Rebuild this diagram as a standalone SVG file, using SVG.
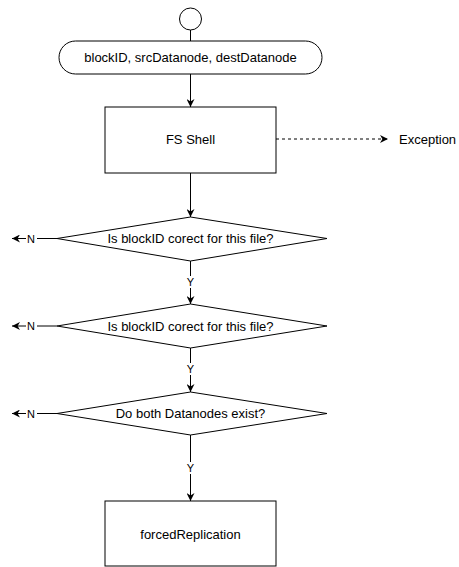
<svg xmlns="http://www.w3.org/2000/svg" width="459" height="567" viewBox="0 0 459 567">
  <defs>
    <style>
      .shape { fill: #ffffff; stroke: #000000; stroke-width: 1; }
      .edge { fill: none; stroke: #000000; stroke-width: 1; }
      .dashed { stroke-dasharray: 3 3; }
      .label { font-family: "Liberation Sans", Arial, sans-serif; font-size: 13px; fill: #000000; text-anchor: middle; dominant-baseline: central; }
      .small { font-family: "Liberation Sans", Arial, sans-serif; font-size: 11px; fill: #000000; text-anchor: middle; dominant-baseline: central; }
      .bg { fill: #ffffff; stroke: none; }
    </style>
    <marker id="arrow" viewBox="0 0 10 10" refX="10" refY="5" markerWidth="8" markerHeight="8" markerUnits="userSpaceOnUse" orient="auto">
      <path d="M0,0 L10,5 L0,10 L3,5 Z" fill="#000000"/>
    </marker>
  </defs>

  <!-- connectors -->
  <g id="connectors">
    <line class="edge" x1="190.5" y1="30" x2="190.5" y2="41"/>
    <line class="edge" x1="190.5" y1="74" x2="190.5" y2="107" marker-end="url(#arrow)"/>
    <line class="edge dashed" x1="276" y1="139" x2="388" y2="139" marker-end="url(#arrow)"/>
    <line class="edge" x1="190.5" y1="173" x2="190.5" y2="217" marker-end="url(#arrow)"/>
    <!-- yes branches -->
    <line class="edge" x1="190.5" y1="261" x2="190.5" y2="304" marker-end="url(#arrow)"/>
    <rect class="bg" x="185" y="276" width="11" height="12"/>
    <text class="small" x="190.5" y="282">Y</text>
    <line class="edge" x1="190.5" y1="348" x2="190.5" y2="392" marker-end="url(#arrow)"/>
    <rect class="bg" x="185" y="363" width="11" height="12"/>
    <text class="small" x="190.5" y="369">Y</text>
    <line class="edge" x1="190.5" y1="435" x2="190.5" y2="501" marker-end="url(#arrow)"/>
    <rect class="bg" x="185" y="462" width="11" height="12"/>
    <text class="small" x="190.5" y="468">Y</text>
    <!-- no branches -->
    <line class="edge" x1="57" y1="238.5" x2="12" y2="238.5" marker-end="url(#arrow)"/>
    <rect class="bg" x="26" y="232" width="11" height="13"/>
    <text class="small" x="31" y="238.5">N</text>
    <line class="edge" x1="57" y1="326" x2="12" y2="326" marker-end="url(#arrow)"/>
    <rect class="bg" x="26" y="320" width="11" height="13"/>
    <text class="small" x="31" y="326">N</text>
    <line class="edge" x1="57" y1="413.5" x2="12" y2="413.5" marker-end="url(#arrow)"/>
    <rect class="bg" x="26" y="407" width="11" height="13"/>
    <text class="small" x="31" y="413.5">N</text>
  </g>

  <g id="start">
    <circle class="shape" cx="190.5" cy="19" r="11"/>
  </g>

  <g id="inputs">
    <rect class="shape" x="59" y="41" width="263" height="33" rx="16.5" ry="16.5"/>
    <text class="label" x="190.5" y="57.5">blockID, srcDatanode, destDatanode</text>
  </g>

  <g id="fs-shell">
    <rect class="shape" x="105" y="107" width="171" height="66"/>
    <text class="label" x="190.5" y="139">FS Shell</text>
  </g>

  <g id="exception">
    <text class="label" x="399" y="139" style="text-anchor: start">Exception</text>
  </g>

  <g id="check-block-1">
    <polygon class="shape" points="190.5,217 327,238.5 190.5,261 57,238.5"/>
    <text class="label" x="190.5" y="238.5">Is blockID corect for this file?</text>
  </g>

  <g id="check-block-2">
    <polygon class="shape" points="190.5,304 327,326 190.5,348 57,326"/>
    <text class="label" x="190.5" y="326">Is blockID corect for this file?</text>
  </g>

  <g id="check-datanodes">
    <polygon class="shape" points="190.5,392 327,413.5 190.5,435 57,413.5"/>
    <text class="label" x="190.5" y="413.5">Do both Datanodes exist?</text>
  </g>

  <g id="forced-replication">
    <rect class="shape" x="105" y="501" width="171" height="65"/>
    <text class="label" x="190.5" y="534">forcedReplication</text>
  </g>
</svg>
